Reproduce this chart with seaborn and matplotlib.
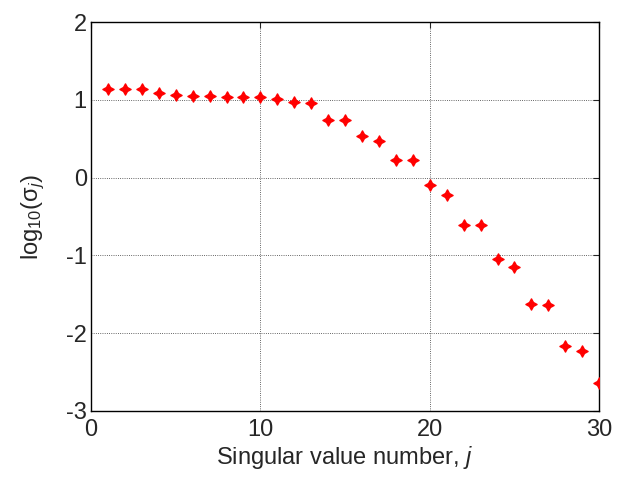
import matplotlib
matplotlib.use("Agg")
import matplotlib.pyplot as plt
import seaborn as sns
import pandas as pd

# ─── Data ────────────────────────────────────────────────────────────────────
index_j = list(range(1, 31))
log_sigma = [
    1.14, 1.14, 1.14, 1.09, 1.06, 1.05, 1.05, 1.04, 1.04, 1.03,
    1.01, 0.97, 0.96, 0.74, 0.74, 0.53, 0.47, 0.22, 0.22, -0.10,
    -0.22, -0.61, -0.61, -1.05, -1.15, -1.62, -1.64, -2.16, -2.23, -2.64,
]
x_ticks = [0, 10, 20, 30]
y_ticks = [-3, -2, -1, 0, 1, 2]

df = pd.DataFrame({"j": index_j, "logsig": log_sigma})

# ─── Style ───────────────────────────────────────────────────────────────────
sns.set_style("white")
plt.rcParams["font.family"] = ["Liberation Sans", "DejaVu Sans"]
plt.rcParams["mathtext.fontset"] = "custom"
plt.rcParams["mathtext.rm"] = "Liberation Sans"
plt.rcParams["mathtext.it"] = "Liberation Sans:italic"
plt.rcParams["axes.unicode_minus"] = False

fig = plt.figure(figsize=(6.19, 4.79), dpi=100)
ax = fig.add_axes([0.147, 0.142, 0.821, 0.812])

sns.scatterplot(
    data=df, x="j", y="logsig", ax=ax,
    marker=(4, 1, 0), s=65, color="red", edgecolor="red", linewidth=1.0,
    zorder=3, legend=False,
)

ax.set_xlim(0, 30)
ax.set_ylim(-3, 2)
ax.set_xticks(x_ticks)
ax.set_yticks(y_ticks)
ax.grid(True, color="black", linestyle=":", linewidth=0.6, alpha=0.8)
ax.tick_params(direction="in", top=True, right=True, length=4,
               width=0.8, labelsize=17, pad=3)
ax.tick_params(axis="x", pad=6)
for sp in ax.spines.values():
    sp.set_color("black")
    sp.set_linewidth(1.0)

ax.set_xlabel("Singular value number, $j$", fontsize=17, labelpad=2)
ax.set_ylabel("log$_{10}$(σ$_{j}$)", fontsize=17, labelpad=14)

fig.savefig("out.png", dpi=100)
plt.close(fig)
